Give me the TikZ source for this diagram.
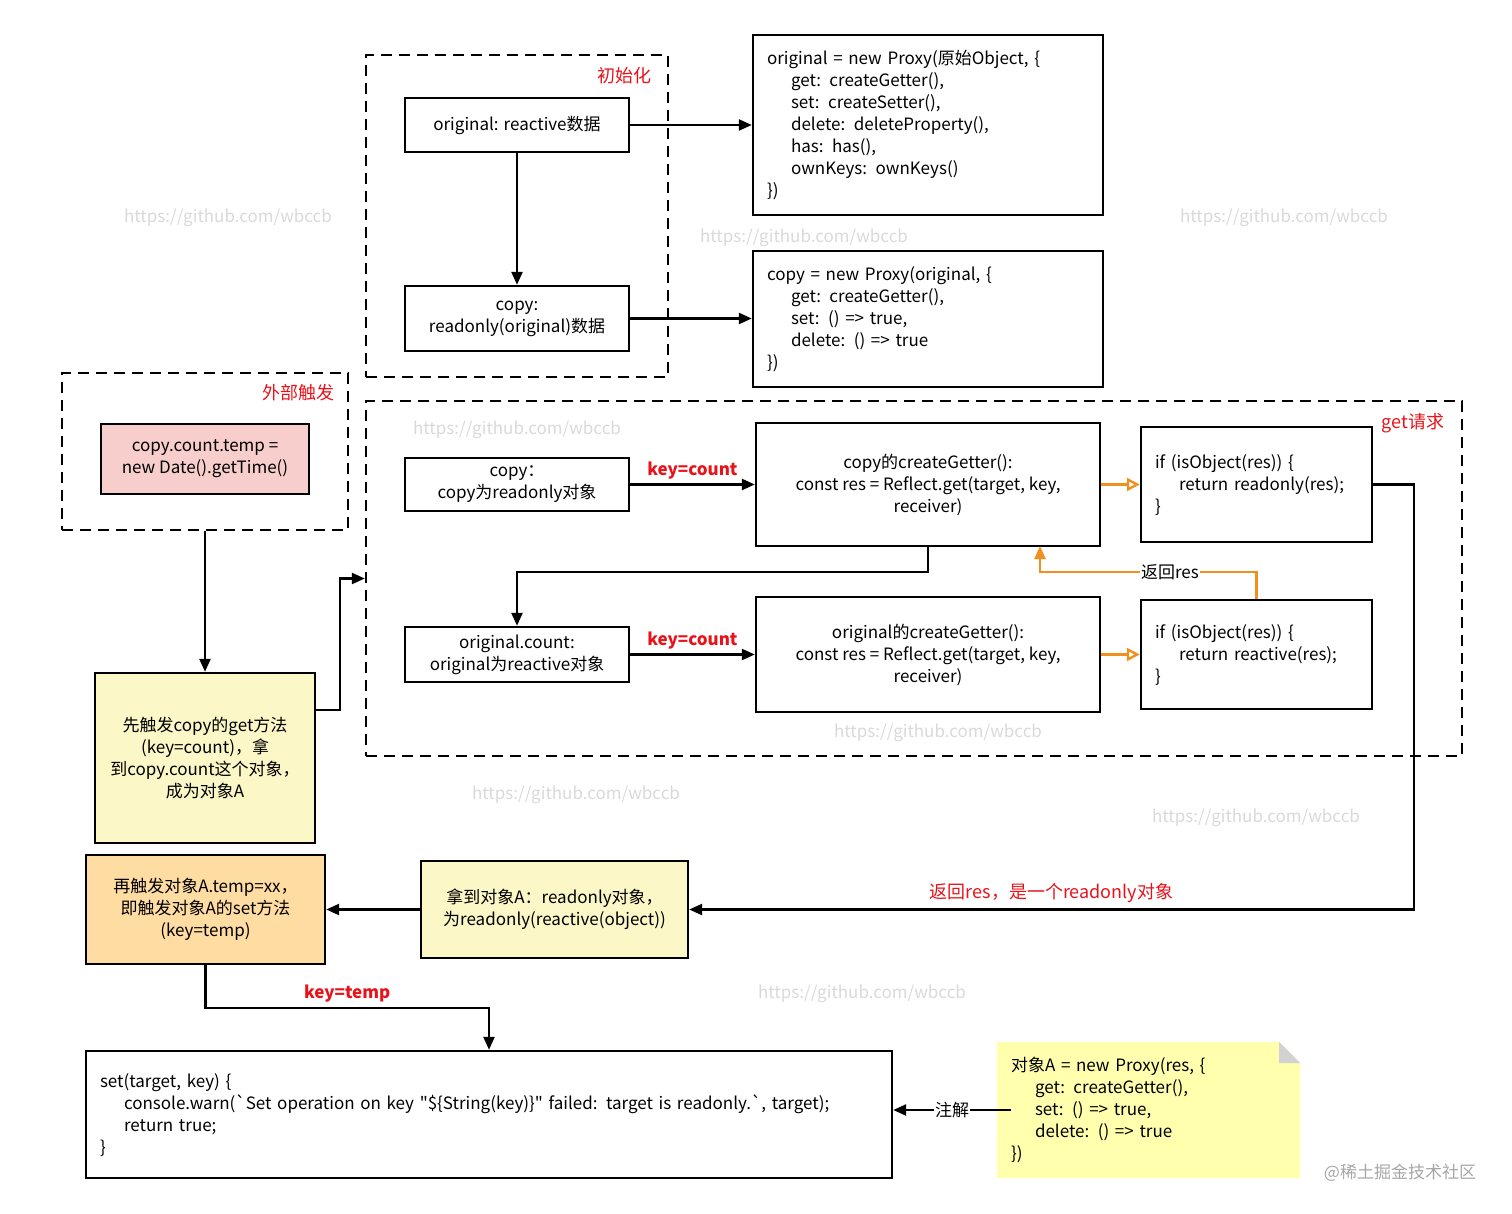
\documentclass[tikz,border=0pt]{standalone}
\usepackage{fontspec}
\setmainfont{Noto Sans CJK SC}[Ligatures=TeXOff]
\usetikzlibrary{arrows.meta,positioning}
\definecolor{keyred}{HTML}{E8131A}
\definecolor{retorange}{HTML}{F0901E}
\definecolor{paleyel}{HTML}{FBF7C6}
\definecolor{pinkfill}{HTML}{F8CECC}
\definecolor{orangefill}{HTML}{FFDCA2}
\definecolor{notefill}{HTML}{FFFFAE}
\tikzset{
  box/.style={draw,line width=2.4pt,align=center,inner sep=0pt,font=\fontsize{17}{22}\selectfont},
  codebox/.style={box,align=left,inner xsep=14pt},
  dbox/.style={draw,line width=2.4pt,dash pattern=on 11pt off 7pt,inner sep=0pt},
  arr/.style={line width=2.4pt,-{Triangle[length=13pt,width=11pt]}},
  keylab/.style={text=keyred,font=\fontsize{17}{20}\selectfont\bfseries},
  redlab/.style={text=keyred,font=\fontsize{18}{20}\selectfont},
  wmark/.style={text=gray!30,font=\fontsize{17}{20}\selectfont},
}
\begin{document}
\begin{tikzpicture}[x=1pt,y=-1pt]
\useasboundingbox (0,0) rectangle (1512,1214);
% watermarks
\foreach \wx/\wy in {228/218,804/238,1284/218,517/430,938/733,576/795,1256/818,862/994}
  \node[wmark] at (\wx,\wy) {https://github.com/wbccb};
\node[text=gray!70,font=\fontsize{17}{20}\selectfont] (brand) at (1400,1173) {@稀土掘金技术社区};
% dashed groups
\node[dbox,minimum width=302pt,minimum height=322pt] (init) at (517,216) {};
\node[redlab] (initlab) at (624,76) {初始化};
\node[dbox,minimum width=286pt,minimum height=157pt] (ext) at (205,451.5) {};
\node[redlab] (extlab) at (298,393) {外部触发};
\node[dbox,minimum width=1096pt,minimum height=355pt] (getreq) at (914,578.5) {};
\node[redlab] (getlab) at (1413,423) {get请求};
% init part
\node[box,minimum width=224pt,minimum height=54pt] (orig) at (517,125) {original: reactive数据};
\node[box,minimum width=224pt,minimum height=65pt] (copy) at (517,318.5) {copy:\\readonly(original)数据};
\node[codebox,minimum width=350pt,minimum height=180pt,text width=322pt] (porig) at (928,125)
  {original = new Proxy(原始Object, \{\\\hspace*{24pt}get: createGetter(),\\\hspace*{24pt}set: createSetter(),\\\hspace*{24pt}delete: deleteProperty(),\\\hspace*{24pt}has: has(),\\\hspace*{24pt}ownKeys: ownKeys()\\\})};
\node[codebox,minimum width=350pt,minimum height=136pt,text width=322pt] (pcopy) at (928,319)
  {copy = new Proxy(original, \{\\\hspace*{24pt}get: createGetter(),\\\hspace*{24pt}set: () => true,\\\hspace*{24pt}delete: () => true\\\})};
\draw[arr] (orig) -- (copy);
\draw[arr] (orig) -- (porig);
\draw[arr] (copy) -- (copy -| porig.west);
% external trigger
\node[box,fill=pinkfill,minimum width=208pt,minimum height=70pt] (touch) at (205,459) {copy.count.temp =\\new Date().getTime()};
% get request
\node[box,minimum width=224pt,minimum height=53pt] (copyget) at (517,484.5) {copy：\\copy为readonly对象};
\node[box,minimum width=344pt,minimum height=123pt] (getter1) at (928,484.5) {copy的createGetter():\\const res = Reflect.get(target, key,\\receiver)};
\node[codebox,minimum width=231pt,minimum height=115pt,text width=203pt] (if1) at (1256.5,484.5) {if (isObject(res)) \{\\\hspace*{24pt}return readonly(res);\\\}};
\node[box,minimum width=224pt,minimum height=55pt] (origget) at (517,654.5) {original.count:\\original为reactive对象};
\node[box,minimum width=344pt,minimum height=115pt] (getter2) at (928,654.5) {original的createGetter():\\const res = Reflect.get(target, key,\\receiver)};
\node[codebox,minimum width=231pt,minimum height=109pt,text width=203pt] (if2) at (1256.5,654.5) {if (isObject(res)) \{\\\hspace*{24pt}return reactive(res);\\\}};
\draw[arr] (copyget) -- node[keylab,above=1pt] {key=count} (getter1);
\draw[arr] (origget) -- node[keylab,above=1pt] {key=count} (getter2);
\draw[line width=2.4pt,draw=retorange,-{Triangle[open,length=13pt,width=13pt]}] (getter1) -- (if1);
\draw[line width=2.4pt,draw=retorange,-{Triangle[open,length=13pt,width=13pt]}] (getter2) -- (if2);
\draw[arr] (getter1.south) |- (517,572) -- (origget.north);
\coordinate (retup) at (1040,546);
\draw[line width=2.4pt,draw=retorange,-{Triangle[length=13pt,width=11pt]}] (if2.north) |- (1040,572)
  node[pos=0.7,fill=white,inner sep=1pt,font=\fontsize{17}{20}\selectfont] {返回res} -- (retup);
% lower flow
\node[box,fill=paleyel,minimum width=220pt,minimum height=170pt,text width=200pt] (first) at (205,758) {先触发copy的get方法\\(key=count)，拿\\到copy.count这个对象，\\成为对象A};
\node[box,fill=paleyel,minimum width=267pt,minimum height=97pt] (gotA) at (554.5,909.5) {拿到对象A：readonly对象，\\为readonly(reactive(object))};
\node[box,fill=orangefill,minimum width=239pt,minimum height=109pt] (setA) at (205.5,909.5) {再触发对象A.temp=xx，\\即触发对象A的set方法\\(key=temp)};
\node[codebox,minimum width=806pt,minimum height=127pt,text width=778pt] (setfn) at (489,1114.5)
  {set(target, key) \{\\\hspace*{24pt}console.warn(`Set operation on key "\$\{String(key)\}" failed: target is readonly.`, target);\\\hspace*{24pt}return true;\\\}};
\node[align=left,inner sep=0pt,text width=275pt,minimum height=136pt,font=\fontsize{17}{22}\selectfont] (note) at (1148.5,1110)
  {对象A = new Proxy(res, \{\\\hspace*{24pt}get: createGetter(),\\\hspace*{24pt}set: () => true,\\\hspace*{24pt}delete: () => true\\\})};
\fill[notefill] (997,1042) -- (1279,1042) -- (1300,1063) -- (1300,1178) -- (997,1178) -- cycle;
\fill[gray!35] (1279,1042) -- (1300,1063) -- (1279,1063) -- cycle;
\node[align=left,inner sep=0pt,text width=275pt,font=\fontsize{17}{22}\selectfont] at (note) {对象A = new Proxy(res, \{\\\hspace*{24pt}get: createGetter(),\\\hspace*{24pt}set: () => true,\\\hspace*{24pt}delete: () => true\\\})};
\draw[arr] (ext) -- (first);
\draw[arr] (first.east |- 0,710) -- (340,710) |- (getreq.west);
\draw[arr] (if1.east) -- (1414,484.5) |- node[pos=0.75,redlab,above=2pt] {返回res，是一个readonly对象} (gotA.east);
\draw[arr] (gotA) -- (setA);
\draw[arr] (setA.south) |- node[pos=0.75,keylab,above=1pt] {key=temp} (489,1008) -- (setfn.north);
\draw[arr] (note.west) -- node[fill=white,inner sep=1pt,font=\fontsize{17}{20}\selectfont] {注解} (setfn.east |- note.west);
\end{tikzpicture}
\end{document}
